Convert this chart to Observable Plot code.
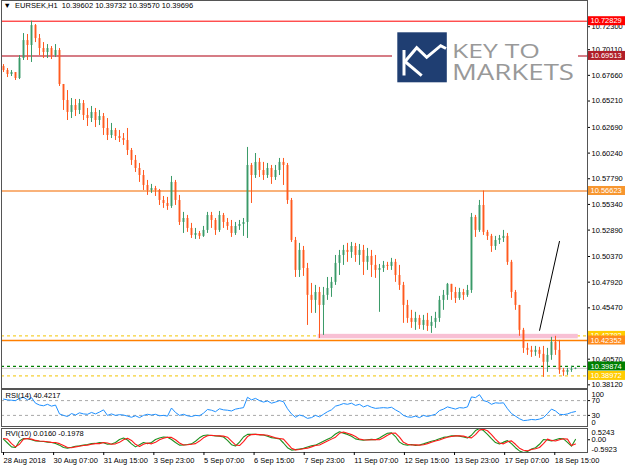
<!DOCTYPE html>
<html><head><meta charset="utf-8">
<script src="https://cdn.jsdelivr.net/npm/d3@7"></script>
<script src="https://cdn.jsdelivr.net/npm/@observablehq/plot@0.6"></script>
<style>
body{margin:0;background:#fff;}
#wrap{position:relative;width:625px;height:469px;overflow:hidden;background:#fff;}
#wrap svg{position:absolute;left:0;}
</style></head><body><div id="wrap"></div>
<script>
// ---------------- DATA ----------------
const symbol = "EURSEK,H1";
const firstOpen = 10.6850;
const closes = [10.6812,10.6774,10.6793,10.6736,10.6927,10.7098,10.7051,10.7241,10.7117,10.7022,
10.6984,10.7022,10.6955,10.7003,10.6679,10.6526,10.6412,10.6478,10.6431,10.6497,
10.6383,10.6354,10.6412,10.6335,10.6373,10.6259,10.6192,10.6240,10.6183,10.6163,
10.6144,10.6049,10.5954,10.5877,10.5810,10.5715,10.5667,10.5686,10.5667,10.5572,
10.5543,10.5515,10.5744,10.5572,10.5362,10.5400,10.5305,10.5238,10.5257,10.5229,
10.5286,10.5429,10.5381,10.5286,10.5429,10.5362,10.5324,10.5257,10.5324,10.5343,
10.5362,10.5906,10.5810,10.5935,10.5858,10.5810,10.5877,10.5791,10.5858,10.5935,
10.5906,10.5572,10.5190,10.4904,10.5095,10.4923,10.4666,10.4618,10.4694,10.4570,
10.4666,10.4732,10.4790,10.4971,10.5047,10.5095,10.5076,10.5133,10.5047,10.5095,
10.4981,10.5038,10.4952,10.4904,10.4923,10.4952,10.4942,10.4981,10.4856,10.4761,
10.4570,10.4446,10.4408,10.4446,10.4379,10.4427,10.4370,10.4408,10.4446,10.4618,
10.4666,10.4771,10.4694,10.4637,10.4694,10.4666,10.4713,10.5410,10.5286,10.5524,
10.5267,10.5229,10.5133,10.5190,10.5209,10.5229,10.4981,10.4694,10.4570,10.4332,
10.4160,10.4141,10.4122,10.4141,10.4103,10.4027,10.4093,10.4217,10.4141,10.3950,
10.3931,10.3950,10.39602,10.39696];
const highs = [10.6869,10.6831,10.6812,10.6784,10.6955,10.7165,10.7156,10.7283,10.7251,10.7156,
10.7079,10.7060,10.7041,10.7060,10.7022,10.6679,10.6621,10.6545,10.6536,10.6536,
10.6526,10.6450,10.6469,10.6450,10.6431,10.6402,10.6354,10.6307,10.6259,10.6240,
10.6211,10.6259,10.6068,10.6001,10.5925,10.5858,10.5763,10.5725,10.5706,10.5677,
10.5610,10.5601,10.5801,10.5763,10.5620,10.5458,10.5429,10.5353,10.5305,10.5276,
10.5324,10.5458,10.5458,10.5400,10.5467,10.5448,10.5400,10.5381,10.5362,10.5381,
10.5400,10.6078,10.5925,10.6020,10.5973,10.5935,10.5925,10.5906,10.5906,10.5973,
10.5973,10.5925,10.5591,10.5219,10.5162,10.5133,10.4971,10.4780,10.4761,10.4742,
10.4742,10.4837,10.4837,10.5047,10.5095,10.5143,10.5162,10.5171,10.5162,10.5152,
10.5143,10.5114,10.5095,10.5047,10.4961,10.4990,10.4981,10.5019,10.5009,10.4952,
10.4790,10.4618,10.4523,10.4504,10.4475,10.4475,10.4494,10.4465,10.4504,10.4656,
10.4713,10.4780,10.4771,10.4742,10.4733,10.4723,10.4761,10.5448,10.5429,10.5572,
10.5662,10.5286,10.5248,10.5229,10.5238,10.5286,10.5257,10.5000,10.4713,10.4570,
10.4351,10.4208,10.4179,10.4179,10.4170,10.4179,10.4160,10.4265,10.4275,10.4236,
10.3969,10.3969,10.3988,10.39732];
const lows = [10.6793,10.6745,10.6755,10.6717,10.6726,10.6908,10.6908,10.6889,10.7079,10.6955,
10.6927,10.6927,10.6917,10.6936,10.6660,10.6431,10.6335,10.6354,10.6373,10.6392,
10.6335,10.6278,10.6316,10.6268,10.6287,10.6192,10.6144,10.6163,10.6144,10.6125,
10.6097,10.6001,10.5906,10.5839,10.5744,10.5667,10.5620,10.5639,10.5610,10.5524,
10.5496,10.5477,10.5496,10.5524,10.5333,10.5257,10.5267,10.5209,10.5200,10.5200,
10.5219,10.5257,10.5305,10.5238,10.5267,10.5305,10.5286,10.5219,10.5238,10.5286,
10.5229,10.5209,10.5543,10.5782,10.5791,10.5763,10.5782,10.5725,10.5763,10.5810,
10.5715,10.5534,10.5171,10.4837,10.4837,10.4847,10.4379,10.4494,10.4494,10.4255,
10.4284,10.4618,10.4647,10.4761,10.4856,10.4952,10.4981,10.5019,10.4981,10.4952,
10.4856,10.4904,10.4837,10.4828,10.4504,10.4885,10.4904,10.4904,10.4790,10.4713,
10.4399,10.4399,10.4351,10.4332,10.4341,10.4332,10.4322,10.4303,10.4351,10.4408,
10.4523,10.4618,10.4618,10.4589,10.4618,10.4618,10.4647,10.4685,10.5219,10.5267,
10.5238,10.5190,10.5076,10.5095,10.5152,10.5171,10.4952,10.4637,10.4523,10.4275,
10.4112,10.4093,10.4074,10.4084,10.4065,10.3883,10.3931,10.4046,10.4093,10.3912,
10.3893,10.3902,10.3931,10.39570];
const rsi14 = [74,72,71,70,76,79,72,78,63,58,
56,60,55,58,34,30,27,35,31,37,
34,33,38,34,39,45,30,34,30,32,
31,28,25,29,24,30,33,31,33,29,
30,28,50,38,30,33,29,27,30,29,
36,46,44,40,48,45,44,42,47,49,
51,79,72,76,70,66,69,63,66,70,
67,48,34,25,31,28,22,24,30,26,
33,40,45,55,58,62,60,63,57,60,
53,57,52,49,50,51,50,52,45,39,
30,26,25,28,24,30,27,30,33,43,
47,53,50,47,51,50,53,80,78,86,
70,67,60,64,63,64,48,35,28,21,
16,17,19,18,20,24,35,47,42,33,
32,34,38,40.4217];
const rviMain = [0.03,-0.15,-0.33,-0.36,-0.06,0.06,0.05,0.00,-0.05,-0.07,
-0.08,-0.11,-0.13,-0.17,-0.25,-0.36,-0.39,-0.35,-0.30,-0.28,
-0.25,-0.22,-0.18,-0.17,-0.13,-0.14,-0.21,-0.20,-0.13,0.01,
0.08,-0.01,-0.19,-0.33,-0.23,-0.13,-0.18,-0.13,0.01,0.08,
0.13,0.12,0.01,-0.13,-0.25,-0.24,-0.22,-0.19,-0.07,0.09,
0.20,0.22,0.20,0.18,0.17,0.13,-0.03,-0.23,-0.29,-0.11,
0.13,0.25,0.26,0.25,0.23,0.22,0.16,0.10,0.07,0.04,
-0.15,-0.37,-0.48,-0.46,-0.43,-0.40,-0.34,-0.28,-0.25,-0.16,
-0.07,0.02,0.11,0.27,0.37,0.31,0.25,0.16,0.04,0.00,
-0.02,0.00,0.02,0.00,0.08,0.20,0.30,0.32,0.15,-0.11,
-0.22,-0.25,-0.22,-0.26,-0.24,-0.19,-0.13,-0.07,-0.02,0.05,
0.11,0.14,0.18,0.19,0.17,0.13,0.08,0.21,0.43,0.5243,
0.43,0.25,0.05,-0.13,-0.20,-0.11,-0.04,-0.18,-0.37,-0.52,
-0.5923,-0.55,-0.43,-0.37,-0.21,0.01,-0.01,-0.06,0.00,0.06,
0.04,-0.12,-0.30,0.0160];
const rviSignal = [0.06,0.03,-0.18,-0.33,-0.21,0.03,0.06,0.03,-0.03,-0.06,
-0.07,-0.09,-0.12,-0.13,-0.18,-0.27,-0.36,-0.37,-0.33,-0.30,
-0.27,-0.25,-0.21,-0.18,-0.18,-0.13,-0.15,-0.21,-0.19,-0.12,
0.00,0.07,-0.03,-0.21,-0.31,-0.21,-0.15,-0.19,-0.12,0.00,
0.07,0.12,0.11,0.00,-0.15,-0.24,-0.23,-0.21,-0.18,-0.06,
0.09,0.19,0.21,0.19,0.18,0.17,0.12,-0.06,-0.24,-0.27,
-0.09,0.15,0.24,0.25,0.24,0.23,0.21,0.15,0.09,0.06,
0.03,-0.18,-0.39,-0.47,-0.45,-0.42,-0.39,-0.33,-0.27,-0.24,
-0.15,-0.06,0.03,0.12,0.30,0.36,0.30,0.24,0.15,0.03,
0.00,-0.01,0.00,0.01,0.00,0.09,0.21,0.30,0.31,0.12,
-0.12,-0.21,-0.24,-0.23,-0.25,-0.23,-0.18,-0.12,-0.06,-0.01,
0.06,0.12,0.15,0.18,0.18,0.17,0.12,0.09,0.24,0.45,
0.49,0.42,0.24,0.03,-0.15,-0.19,-0.09,-0.05,-0.21,-0.39,
-0.49,-0.51,-0.45,-0.42,-0.36,-0.18,0.03,-0.03,-0.06,0.00,
0.05,0.03,-0.27,-0.1978];
const BARS_PER_CANDLE = 2.554;           // hourly bars summarised by each drawn candle
const tickBars = [0,32,64,96,128,160,192,224,256,288,320,352];
const tickLabels = ["28 Aug 2018","30 Aug 07:00","31 Aug 15:00","3 Sep 23:00","5 Sep 07:00","6 Sep 15:00",
  "7 Sep 23:00","11 Sep 07:00","12 Sep 15:00","13 Sep 23:00","17 Sep 07:00","18 Sep 15:00"];
const priceTicks = [10.72300,10.70110,10.67660,10.65210,10.62690,10.60240,10.57790,10.55340,
  10.52890,10.50370,10.47920,10.45470,10.43020,10.40570,10.38120];
const levelValues = [10.72829,10.69513,10.56623,10.42792,10.42352,10.38972,10.39874];
const zoneBars = [201, 367];
const zonePrices = [10.4251, 10.4294];
const trendBars = [342.3, 355.0];
const trendPrices = [10.4332, 10.5181];
const rsiLevels = [30, 70];
const rsiRange = [0, 100];
const rviRange = [-0.5923, 0.5243];

// ---------------- STYLE ----------------
const FONT = "'Liberation Sans', Arial, sans-serif";
const levelStyle = [
  {stroke:"#ff0000", w:1,   dash:null,  box:"#ff0000"},
  {stroke:"#c8505c", w:1.6, dash:null,  box:"#b01e28"},
  {stroke:"#f9b27a", w:2,   dash:null,  box:"#f7962f"},
  {stroke:"#f2c500", w:1,   dash:"3,3", box:"#ffcc00"},
  {stroke:"#ff7f00", w:1.5, dash:null,  box:"#ff8a1a"},
  {stroke:"#f2c500", w:1,   dash:"3,3", box:"#ffcc00"},
  {stroke:"#008000", w:1.3, dash:"3,3", box:"#008000"}
];
const BULL = "#3a9a68", BEAR = "#ff5a1f";
const xDomain = [-1.28, 372.9];
const common = {width: 625, marginLeft: 1, marginRight: 38,
  style: {fontFamily: FONT, fontSize: "7.5px", background: "transparent", color: "#000", overflow: "visible"}};

// ---------------- BUILD ----------------
const candles = closes.map((c, k) => ({
  bar: k * BARS_PER_CANDLE, open: k ? closes[k - 1] : firstOpen, high: highs[k], low: lows[k], close: c
}));
const indRows = closes.map((_, k) => ({bar: k * BARS_PER_CANDLE, rsi: rsi14[k], main: rviMain[k], signal: rviSignal[k]}));
const last = candles[candles.length - 1];
const f5 = d3.format(".5f");
const title = `\u25BC\u00a0\u00a0${symbol}\u00a0\u00a0${f5(last.open)} ${f5(last.high)} ${f5(last.low)} ${f5(last.close)}`;

function valueBoxes(values, styles) {
  return (index, scales, vals, dims) => {
    const g = d3.create("svg:g").attr("font-size", 7.5).attr("font-family", FONT).attr("text-anchor", "start");
    const x0 = dims.width - dims.marginRight + 1;
    values.forEach((v, i) => {
      const y = scales.y(v);
      g.append("rect").attr("x", x0).attr("y", y - 4.5).attr("width", dims.marginRight - 1).attr("height", 9).attr("fill", styles[i].box);
      g.append("text").attr("x", x0 + 2.5).attr("y", y).attr("dy", "0.36em").attr("text-anchor", "start").attr("fill", "#fff").text(f5(v));
    });
    return g.node();
  };
}

const levelMarks = levelValues.map((v, i) => Plot.ruleY([v], {
  stroke: levelStyle[i].stroke, strokeWidth: levelStyle[i].w, strokeDasharray: levelStyle[i].dash || undefined
}));

const main = Plot.plot({
  ...common, height: 389, marginTop: 0, marginBottom: 1,
  x: {domain: xDomain, axis: null},
  y: {domain: [10.37771, 10.74805]},
  marks: [
    ...levelMarks,
    Plot.rect([{x1: zoneBars[0], x2: zoneBars[1], y1: zonePrices[0], y2: zonePrices[1]}], {x1: "x1", x2: "x2", y1: "y1", y2: "y2", fill: "#f8c0d4"}),
    Plot.ruleY([last.close], {stroke: "#c8c8c8", strokeWidth: 1}),
    Plot.ruleX(candles, {x: "bar", y1: "low", y2: "high", stroke: d => d.close >= d.open ? BULL : BEAR, strokeWidth: 1}),
    Plot.ruleX(candles, {x: "bar", y1: "open", y2: "close", stroke: d => d.close >= d.open ? BULL : BEAR, strokeWidth: 1.9}),
    Plot.line(trendBars.map((b, i) => ({bar: b, price: trendPrices[i]})), {x: "bar", y: "price", stroke: "#000", strokeWidth: 1}),
    Plot.frame({stroke: "#555"}),
    Plot.axisY(priceTicks, {anchor: "right", label: null, tickSize: 2, tickPadding: 2, tickFormat: f5, fill: "#000"}),
    valueBoxes(levelValues, levelStyle),
    Plot.text([title], {text: d => d, frameAnchor: "top-left", textAnchor: "start", lineAnchor: "top", dx: 2, dy: 2, fill: "#000"})
  ]
});

const rsiPlot = Plot.plot({
  ...common, height: 39, marginTop: 1, marginBottom: 1,
  x: {domain: xDomain, axis: null},
  y: {domain: rsiRange},
  marks: [
    Plot.ruleY(rsiLevels, {stroke: "#a8a8a8", strokeDasharray: "3,3"}),
    Plot.line(indRows, {x: "bar", y: "rsi", stroke: "#1e90ff", strokeWidth: 1}),
    Plot.frame({stroke: "#555"}),
    Plot.axisY(rsiLevels, {anchor: "right", label: null, tickSize: 2, tickPadding: 2}),
    Plot.text([String(rsiRange[1])], {text: d => d, frameAnchor: "top-right", textAnchor: "start", lineAnchor: "top", dx: 4, dy: 2, fill: "#000"}),
    Plot.text([String(rsiRange[0])], {text: d => d, frameAnchor: "bottom-right", textAnchor: "start", lineAnchor: "bottom", dx: 4, dy: -2, fill: "#000"}),
    Plot.text([`RSI(14) ${rsi14[rsi14.length - 1].toFixed(4)}`], {text: d => d, frameAnchor: "top-left", textAnchor: "start", lineAnchor: "top", dx: 4, dy: 3, fill: "#000"})
  ]
});

const rviPlot = Plot.plot({
  ...common, height: 42, marginTop: 1, marginBottom: 17,
  x: {domain: xDomain},
  y: {domain: rviRange},
  marks: [
    Plot.line(indRows, {x: "bar", y: "main", stroke: "#1f8f1f", strokeWidth: 1.1}),
    Plot.line(indRows, {x: "bar", y: "signal", stroke: "#ff1a1a", strokeWidth: 1.1}),
    Plot.frame({stroke: "#555"}),
    Plot.axisY([0], {anchor: "right", label: null, tickSize: 2, tickPadding: 2, tickFormat: d => d.toFixed(2)}),
    Plot.text([rviRange[1].toFixed(4)], {text: d => d, frameAnchor: "top-right", textAnchor: "start", lineAnchor: "top", dx: 4, dy: 1, fill: "#000"}),
    Plot.text([rviRange[0].toFixed(4)], {text: d => d, frameAnchor: "bottom-right", textAnchor: "start", lineAnchor: "bottom", dx: 4, dy: -1, fill: "#000"}),
    Plot.text([`RVI(10) ${rviMain[rviMain.length - 1].toFixed(4)} ${rviSignal[rviSignal.length - 1].toFixed(4)}`], {text: d => d, frameAnchor: "top-left", textAnchor: "start", lineAnchor: "top", dx: 4, dy: 2, fill: "#000"}),
    Plot.axisX(tickBars, {anchor: "bottom", label: null, tickSize: 3, tickPadding: 2, textAnchor: "start", dx: 0, tickFormat: d => tickLabels[tickBars.indexOf(d)]})
  ]
});

const wrap = document.getElementById("wrap");
[[main, 0], [rsiPlot, 388], [rviPlot, 427]].forEach(([svg, top]) => {
  svg.style.position = "absolute"; svg.style.top = top + "px"; svg.style.left = "0px";
  wrap.appendChild(svg);
});

// Logo (brand watermark)
wrap.insertAdjacentHTML("beforeend", `
<svg width="186" height="58" viewBox="0 0 186 58" style="position:absolute;left:392px;top:28px">
  <rect width="186" height="58" fill="#fff"/>
  <rect x="5.3" y="4.3" width="49.5" height="50" fill="#1f3e72"/>
  <g fill="none" stroke="#fff" stroke-width="3" stroke-linejoin="miter" stroke-linecap="butt">
    <path d="M12 22 V47.5"/>
    <path d="M13 33.5 L24.7 19.7 L34.7 29.3 L48.7 17.7 L54 20.5"/>
    <path d="M13 33.5 L29.7 47.7"/>
  </g>
  <text x="60" y="30" font-family="'Open Sans', 'Liberation Sans', sans-serif" font-size="20" font-weight="500" fill="#999999" textLength="88" lengthAdjust="spacingAndGlyphs">KEY TO</text>
  <text x="60" y="52" font-family="'Open Sans', 'Liberation Sans', sans-serif" font-size="22" font-weight="500" fill="#999999" textLength="122" lengthAdjust="spacingAndGlyphs">MARKETS</text>
</svg>`);
</script></body></html>
